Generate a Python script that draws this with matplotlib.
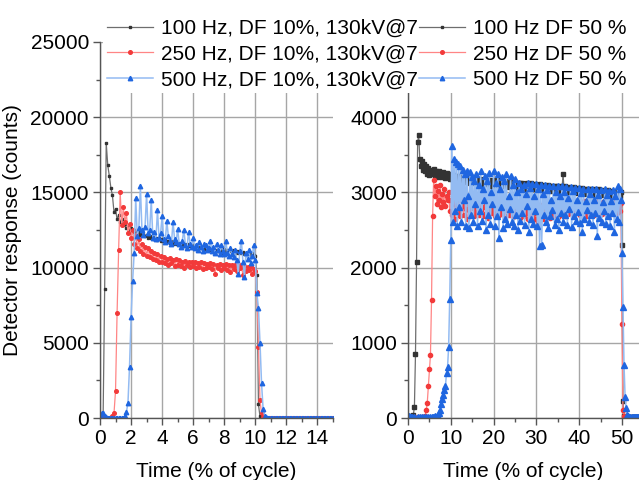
import matplotlib
matplotlib.use("Agg")
import matplotlib.pyplot as plt
import numpy as np
from matplotlib.patches import Rectangle
from matplotlib.ticker import FixedLocator, MultipleLocator

plt.rcParams["font.family"] = ["Liberation Sans", "DejaVu Sans"]

# sampling grids (% of cycle)
LEFT_STEP = 0.1
RIGHT_STEP = 0.25
T_LEFT = np.round(np.arange(0, 15 + LEFT_STEP / 2, LEFT_STEP), 2)
T_RIGHT = np.round(np.arange(0, 54 + RIGHT_STEP / 2, RIGHT_STEP), 2)

LABELS_DF10 = ["100 Hz, DF 10%, 130kV@7", "250 Hz, DF 10%, 130kV@7",
               "500 Hz, DF 10%, 130kV@7"]
LABELS_DF50 = ["100 Hz DF 50 %", "250 Hz DF 50 %", "500 Hz DF 50 %"]

# DF 10 %, one value per 0.1 % of cycle
DF10_100HZ = [
    100, 60, 40, 8600, 18300, 16800, 16100, 15300, 14800, 13700,
    13900, 13200, 13500, 13000, 13200, 12800, 12900, 12600, 12700, 12500,
    12600, 12400, 12500, 12300, 12400, 12200, 12350, 12150, 12250, 12100,
    12200, 12000, 12100, 11950, 12050, 11900, 12000, 11850, 11950, 11800,
    11900, 11750, 11850, 11700, 11800, 11650, 11750, 11600, 11700, 11600,
    11650, 11550, 11650, 11500, 11600, 11450, 11550, 11450, 11500, 11400,
    11500, 11350, 11450, 11300, 11400, 11300, 11350, 11250, 11350, 11200,
    11300, 11150, 11250, 11100, 11200, 11100, 11150, 11050, 11150, 11000,
    11250, 11100, 11200, 11100, 11150, 11050, 11150, 11000, 11100, 11000,
    11100, 10950, 11050, 10900, 11000, 10900, 10950, 10850, 10950, 10850,
    10750, 9500, 900, 100, 20, 0, 0, 0, 0, 0,
    0, 0, 0, 0, 0, 0, 0, 0, 0, 0,
    0, 0, 0, 0, 0, 0, 0, 0, 0, 0,
    0, 0, 0, 0, 0, 0, 0, 0, 0, 0,
    0, 0, 0, 0, 0, 0, 0, 0, 0, 0,
    0,
]
DF10_250HZ = [
    0, 0, 0, 0, 0, 0, 0, 0, 100, 300,
    1800, 7000, 11200, 15000, 12800, 14000, 13000, 13600, 12300, 12900,
    12000, 12500, 11600, 12200, 11300, 11900, 11100, 11600, 10900, 11400,
    10800, 11300, 10700, 11100, 10600, 11000, 10500, 10900, 10400, 10800,
    10400, 10700, 10300, 10600, 10200, 10650, 10300, 10500, 10100, 10550,
    10200, 10500, 10100, 10400, 10000, 10450, 10150, 10400, 10050, 10350,
    10100, 10400, 9950, 10300, 10050, 10350, 9900, 10300, 10000, 10250,
    10050, 10300, 9900, 10250, 9600, 10200, 9950, 10250, 9850, 10150,
    10000, 10250, 9850, 10200, 9700, 10150, 9900, 10200, 9800, 10100,
    9950, 10150, 9500, 10100, 9750, 10050, 9850, 10100, 9600, 9900,
    9800, 8400, 4700, 1200, 300, 80, 0, 0, 0, 0,
    0, 0, 0, 0, 0, 0, 0, 0, 0, 0,
    0, 0, 0, 0, 0, 0, 0, 0, 0, 0,
    0, 0, 0, 0, 0, 0, 0, 0, 0, 0,
    0, 0, 0, 0, 0, 0, 0, 0, 0, 0,
    0,
]
DF10_500HZ = [
    200, 350, 300, 150, 50, 20, 0, 0, 0, 0,
    0, 0, 0, 0, 0, 0, 150, 400, 1000, 3400,
    6700, 9100, 11000, 14600, 12100, 12600, 15400, 12500, 12200, 12700,
    14900, 12300, 12500, 14500, 12000, 12400, 11900, 13800, 12000, 12300,
    13400, 11900, 11700, 13100, 12100, 11800, 11600, 13050, 11900, 11700,
    12550, 11600, 11400, 11800, 12500, 11500, 11300, 12350, 11600, 11400,
    12000, 11300, 11500, 11200, 11700, 11400, 11100, 11600, 11500, 11200,
    11300, 11800, 11100, 11400, 11000, 11600, 11200, 10900, 11500, 11100,
    10900, 11800, 11000, 10800, 11300, 10900, 10700, 11200, 10500, 9600,
    11100, 11800, 10400, 9400, 11000, 10600, 11200, 10300, 10800, 11500,
    10500, 8300, 7300, 5000, 2300, 600, 150, 50, 20, 0,
    0, 0, 0, 0, 0, 0, 0, 0, 0, 0,
    0, 0, 0, 0, 0, 0, 0, 0, 0, 0,
    0, 0, 0, 0, 0, 0, 0, 0, 0, 0,
    0, 0, 0, 0, 0, 0, 0, 0, 0, 0,
    0,
]

# DF 50 %, one value per 0.25 % of cycle (8 values = 2 % per row)
DF50_100HZ = [
    10, 15, 10, 20, 15, 40, 150, 850,
    2080, 3670, 3760, 3450, 3350, 3420, 3300, 3380,
    3280, 3350, 3250, 3320, 3230, 3300, 3260, 3240,
    3310, 3220, 3280, 3240, 3210, 3290, 3230, 3250,
    3200, 3270, 3220, 3190, 3260, 3210, 3230, 3180,
    3240, 3200, 3170, 3230, 3190, 3210, 3160, 3220,
    3180, 3200, 3150, 3210, 3170, 3190, 3140, 3200,
    3160, 3180, 3130, 3190, 3150, 3170, 3120, 3180,
    3150, 3170, 3110, 3180, 3140, 3160, 3100, 3170,
    3140, 3160, 3110, 3170, 3130, 3150, 3090, 3160,
    3130, 3150, 3100, 3160, 3120, 3140, 3080, 3150,
    3120, 3140, 3090, 3150, 3110, 3130, 3070, 3140,
    3110, 3130, 3080, 3140, 3100, 3120, 3060, 3130,
    3100, 3120, 3070, 3130, 3090, 3110, 3050, 3120,
    3090, 3110, 3060, 3120, 3080, 3100, 3040, 3110,
    3080, 3100, 3050, 3110, 3070, 3090, 3030, 3100,
    3070, 3090, 3040, 3100, 3060, 3080, 3020, 3090,
    3060, 3080, 3030, 3090, 3050, 3070, 3010, 3080,
    3050, 3240, 3020, 3080, 3040, 3060, 3000, 3070,
    3040, 3060, 3010, 3070, 3030, 3050, 2990, 3060,
    3030, 3050, 3000, 3060, 3020, 3040, 2980, 3050,
    3020, 3040, 2990, 3050, 3010, 3030, 2970, 3040,
    3010, 3030, 2980, 3040, 3000, 3020, 2960, 3030,
    3000, 3020, 2970, 3030, 2990, 3010, 2950, 3020,
    2990, 3010, 2960, 3020, 2980, 3000, 2950, 3010,
    2300, 230, 30, 10, 10, 10, 10, 10,
    10, 10, 10, 10, 10, 10, 10, 10,
    10,
]
DF50_250HZ = [
    0, 5, 0, 10, 5, 0, 10, 5,
    0, 10, 5, 10, 5, 10, 15, 10,
    20, 100, 200, 420, 650, 840, 1570, 2680,
    3170, 2950, 3080, 2850, 3020, 2900, 3100, 2800,
    2980, 2870, 3050, 2820, 2950, 2900, 3000, 2750,
    2900, 2700, 2950, 2850, 2650, 2900, 2800, 2950,
    2750, 2680, 2900, 2820, 2700, 2880, 2780, 2650,
    2900, 2760, 2830, 2700, 2870, 2790, 2680, 2850,
    2740, 2880, 2700, 2820, 2760, 2900, 2690, 2810,
    2870, 2730, 2800, 2660, 2850, 2770, 2720, 2880,
    2780, 2690, 2840, 2750, 2870, 2700, 2800, 2760,
    2850, 2720, 2790, 2680, 2830, 2760, 2700, 2860,
    2740, 2800, 2670, 2830, 2750, 2700, 2840, 2730,
    2790, 2660, 2820, 2740, 2690, 2850, 2720, 2780,
    2650, 2810, 2730, 2680, 2840, 2710, 2770, 2640,
    2800, 2720, 2600, 2830, 2700, 2760, 2650, 2810,
    2730, 2680, 2840, 2700, 2770, 2660, 2820, 2740,
    2690, 2850, 2720, 2780, 2670, 2830, 2750, 2700,
    2860, 2730, 2790, 2680, 2840, 2760, 2710, 2870,
    2740, 2800, 2690, 2850, 2770, 2720, 2880, 2750,
    2810, 2700, 2860, 2780, 2730, 2890, 2760, 2680,
    2850, 2770, 2720, 2880, 2750, 2820, 2700, 2860,
    2790, 2740, 2890, 2760, 2830, 2710, 2870, 2800,
    2750, 2900, 2770, 2840, 2700, 2880, 2810, 2740,
    2890, 2760, 2850, 2720, 2880, 2820, 2750, 2860,
    1250, 100, 20, 5, 0, 5, 0, 5,
    0, 5, 0, 5, 0, 5, 0, 5,
    0,
]
DF50_500HZ = [
    30, 20, 10, 15, 10, 5, 10, 5,
    5, 10, 5, 10, 5, 10, 5, 10,
    5, 10, 5, 10, 5, 10, 15, 10,
    15, 20, 15, 25, 30, 60, 100, 180,
    250, 300, 370, 420, 600, 680, 950, 1580,
    2370, 3620, 2600, 3450, 2750, 3400, 2550, 3380,
    2800, 3350, 2600, 3300, 2900, 3250, 2550, 3280,
    2950, 2530, 3270, 2700, 3200, 2600, 3150, 2850,
    3250, 2550, 3100, 2750, 3280, 2620, 3050, 2900,
    3220, 2500, 3150, 2700, 3260, 2580, 3000, 2850,
    3280, 2550, 3120, 2680, 3240, 2400, 3050, 2800,
    3200, 2520, 3150, 2650, 3250, 2580, 2950, 2780,
    3220, 2600, 3100, 2550, 3180, 2700, 3000, 2500,
    3120, 2620, 3040, 2720, 3100, 2560, 2980, 2820,
    3130, 2470, 3060, 2650, 3110, 2580, 2950, 2750,
    3110, 2550, 3050, 2290, 3100, 2300, 2980, 2700,
    3100, 2600, 3030, 2520, 3090, 2680, 2900, 2760,
    3090, 2570, 3010, 2650, 3080, 2500, 2950, 2720,
    3080, 2600, 3000, 2700, 3070, 2560, 2920, 2780,
    3070, 2540, 3020, 2680, 3060, 2620, 2900, 2740,
    3060, 2590, 2990, 2470, 3050, 2650, 2880, 2760,
    3050, 2610, 2980, 2700, 3040, 2560, 2900, 2730,
    3040, 2420, 2970, 2660, 3030, 2600, 2870, 2750,
    3040, 2580, 2960, 2690, 3020, 2550, 2890, 2720,
    3030, 2480, 2950, 2650, 3080, 2600, 3050, 2900,
    2200, 1480, 700, 280, 130, 40, 20, 10,
    10, 15, 10, 15, 10, 15, 10, 15,
    10,
]

STYLES = [
    dict(color="#6e6e6e", lw=0.9, marker="s", ms=2.0, mfc="#333333", mec="#333333"),
    dict(color="#ff8585", lw=0.9, marker="o", ms=2.6, mfc="#f23a3a", mec="#f23a3a"),
    dict(color="#93bbf2", lw=1.1, marker="^", ms=3.2, mfc="#1f66e0", mec="#1f66e0"),
]
RIGHT_MARKER_SIZES = [2.4, 3.0, 3.8]


def style_axes(ax):
    for side in ("top", "right"):
        ax.spines[side].set_visible(False)
    for side in ("left", "bottom"):
        ax.spines[side].set_color("#555555")
        ax.spines[side].set_linewidth(1.0)
    ax.grid(True, which="major", color="#a6a6a6", lw=1.0)
    ax.set_axisbelow(True)
    ax.tick_params(which="major", direction="out", length=5, width=1,
                   color="#555555", labelsize=15, pad=3)
    ax.tick_params(which="minor", direction="out", length=3, width=1,
                   color="#555555")
    ax.set_xlabel("Time (% of cycle)", fontsize=15, labelpad=10)


fig = plt.figure(figsize=(6.39, 4.8), dpi=100)
ax1 = fig.add_axes([100 / 639, 62 / 480, 233 / 639, 376 / 480])
ax2 = fig.add_axes([408 / 639, 62 / 480, 231 / 639, 376 / 480])

handles = []
for values, st in zip([DF10_100HZ, DF10_250HZ, DF10_500HZ], STYLES):
    handles += ax1.plot(T_LEFT, values, **st)
for values, st, ms in zip([DF50_100HZ, DF50_250HZ, DF50_500HZ], STYLES,
                          RIGHT_MARKER_SIZES):
    ax2.plot(T_RIGHT, values, **{**st, "ms": ms})

ax1.set_xlim(0, 15)
ax1.set_ylim(0, 25000)
ax1.xaxis.set_major_locator(MultipleLocator(2))
ax1.xaxis.set_minor_locator(MultipleLocator(1))
ax1.yaxis.set_major_locator(MultipleLocator(5000))
ax1.yaxis.set_minor_locator(MultipleLocator(2500))
ax1.set_ylabel("Detector response (counts)", fontsize=15, labelpad=6)
style_axes(ax1)

ax2.set_xlim(0, 54)
ax2.set_ylim(0, 5000)
ax2.xaxis.set_major_locator(MultipleLocator(10))
ax2.xaxis.set_minor_locator(MultipleLocator(5))
ax2.yaxis.set_major_locator(FixedLocator([0, 1000, 2000, 3000, 4000]))
ax2.yaxis.set_minor_locator(FixedLocator([500, 1500, 2500, 3500, 4500]))
style_axes(ax2)

# white block behind the legend hides the top of both plots
fig.patches.append(Rectangle((103 / 639, 1 - 93 / 480), 1, 93 / 480,
                             transform=fig.transFigure, facecolor="white",
                             edgecolor="none", zorder=2))

# same look for both legend columns (small markers, as in the original)
fig.legend(handles + handles, LABELS_DF10 + LABELS_DF50, ncol=2,
           loc="upper left", bbox_to_anchor=(107 / 639, 1 - 19 / 480),
           frameon=False, fontsize=15, handlelength=2.2, handletextpad=0.4,
           columnspacing=0.05, labelspacing=0.32, borderpad=0,
           borderaxespad=0)

fig.savefig("out.png", dpi=100)
